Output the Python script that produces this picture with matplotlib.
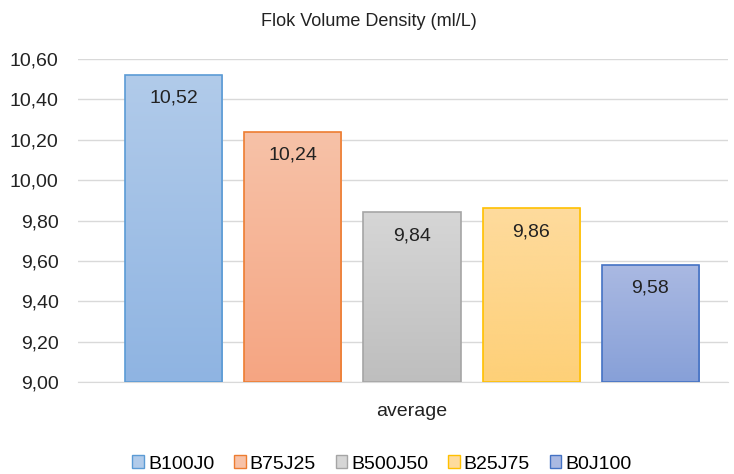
import numpy as np
import matplotlib
matplotlib.use("Agg")
import matplotlib.pyplot as plt
from matplotlib.patches import Patch
from matplotlib.colors import LinearSegmentedColormap
from matplotlib.ticker import FuncFormatter

plt.rcParams['font.family'] = ['Liberation Sans', 'DejaVu Sans']

# flok volume density per mix, averaged
labels = ["B100J0", "B75J25", "B500J50", "B25J75", "B0J100"]
values = [10.52, 10.24, 9.84, 9.86, 9.58]

# (top, bottom, edge) colours for each bar
tops = ["#b1cbea", "#f7c2a8", "#d6d6d6", "#fedb9d", "#aab9e2"]
bottoms = ["#8fb4e2", "#f5a582", "#bebebe", "#fed078", "#87a0d8"]
edges = ["#5b9bd5", "#ed7d31", "#a5a5a5", "#ffc000", "#4472c4"]

fig = plt.figure(figsize=(7.34, 4.74), dpi=100)
ax = fig.add_axes([0.1063, 0.1941, 0.8855, 0.6814])

x = np.arange(len(values))
width = 0.815
ymin, ymax = 9.0, 10.6

bars = ax.bar(x, [v - ymin for v in values], width, bottom=ymin,
              color="none", edgecolor=edges, linewidth=1.2, zorder=3)

# vertical gradient fill clipped to each bar
grad = np.linspace(0, 1, 256).reshape(-1, 1)
for b, t, bo in zip(bars, tops, bottoms):
    cmap = LinearSegmentedColormap.from_list("g", [bo, t])
    bx, by = b.get_x(), b.get_y()
    im = ax.imshow(grad, cmap=cmap, aspect="auto", origin="lower",
                   extent=[bx, bx + b.get_width(), by, by + b.get_height()],
                   zorder=2)
    im.set_clip_path(b)

for xi, v in zip(x, values):
    ax.text(xi, v - 0.115, f"{v:.2f}".replace(".", ","), ha="center", va="center",
            fontsize=14, color="#222222", zorder=4)

ax.set_xlim(-0.8, 4.65)
ax.set_ylim(ymin, ymax)
ax.set_yticks(np.arange(9.0, 10.61, 0.2))
ax.yaxis.set_major_formatter(FuncFormatter(lambda v, p: f"{v:.2f}".replace(".", ",")))
ax.tick_params(axis="y", length=0, labelsize=14, pad=14, labelcolor="#222222")
ax.set_xticks([])
ax.grid(axis="y", color="#d9d9d9", linewidth=1, zorder=0)
for s in ["top", "right", "left"]:
    ax.spines[s].set_visible(False)
ax.spines["bottom"].set_color("#d9d9d9")

fig.text(369 / 734, 1 - 22 / 474, "Flok Volume Density (ml/L)", ha="center",
         va="center", fontsize=13, color="#222222")
fig.text(412 / 734, 1 - 412 / 474, "average", ha="center", va="center",
         fontsize=14, color="#222222")

handles = [Patch(facecolor=c, edgecolor=e, linewidth=1)
           for c, e in zip(tops, edges)]
fig.legend(handles, labels, loc="center", bbox_to_anchor=(382 / 734, 1 - 464 / 474),
           ncol=5, frameon=False, fontsize=14, handlelength=0.6, handleheight=0.6,
           handletextpad=0.2, columnspacing=1.02)

fig.savefig("out.png", dpi=100)
